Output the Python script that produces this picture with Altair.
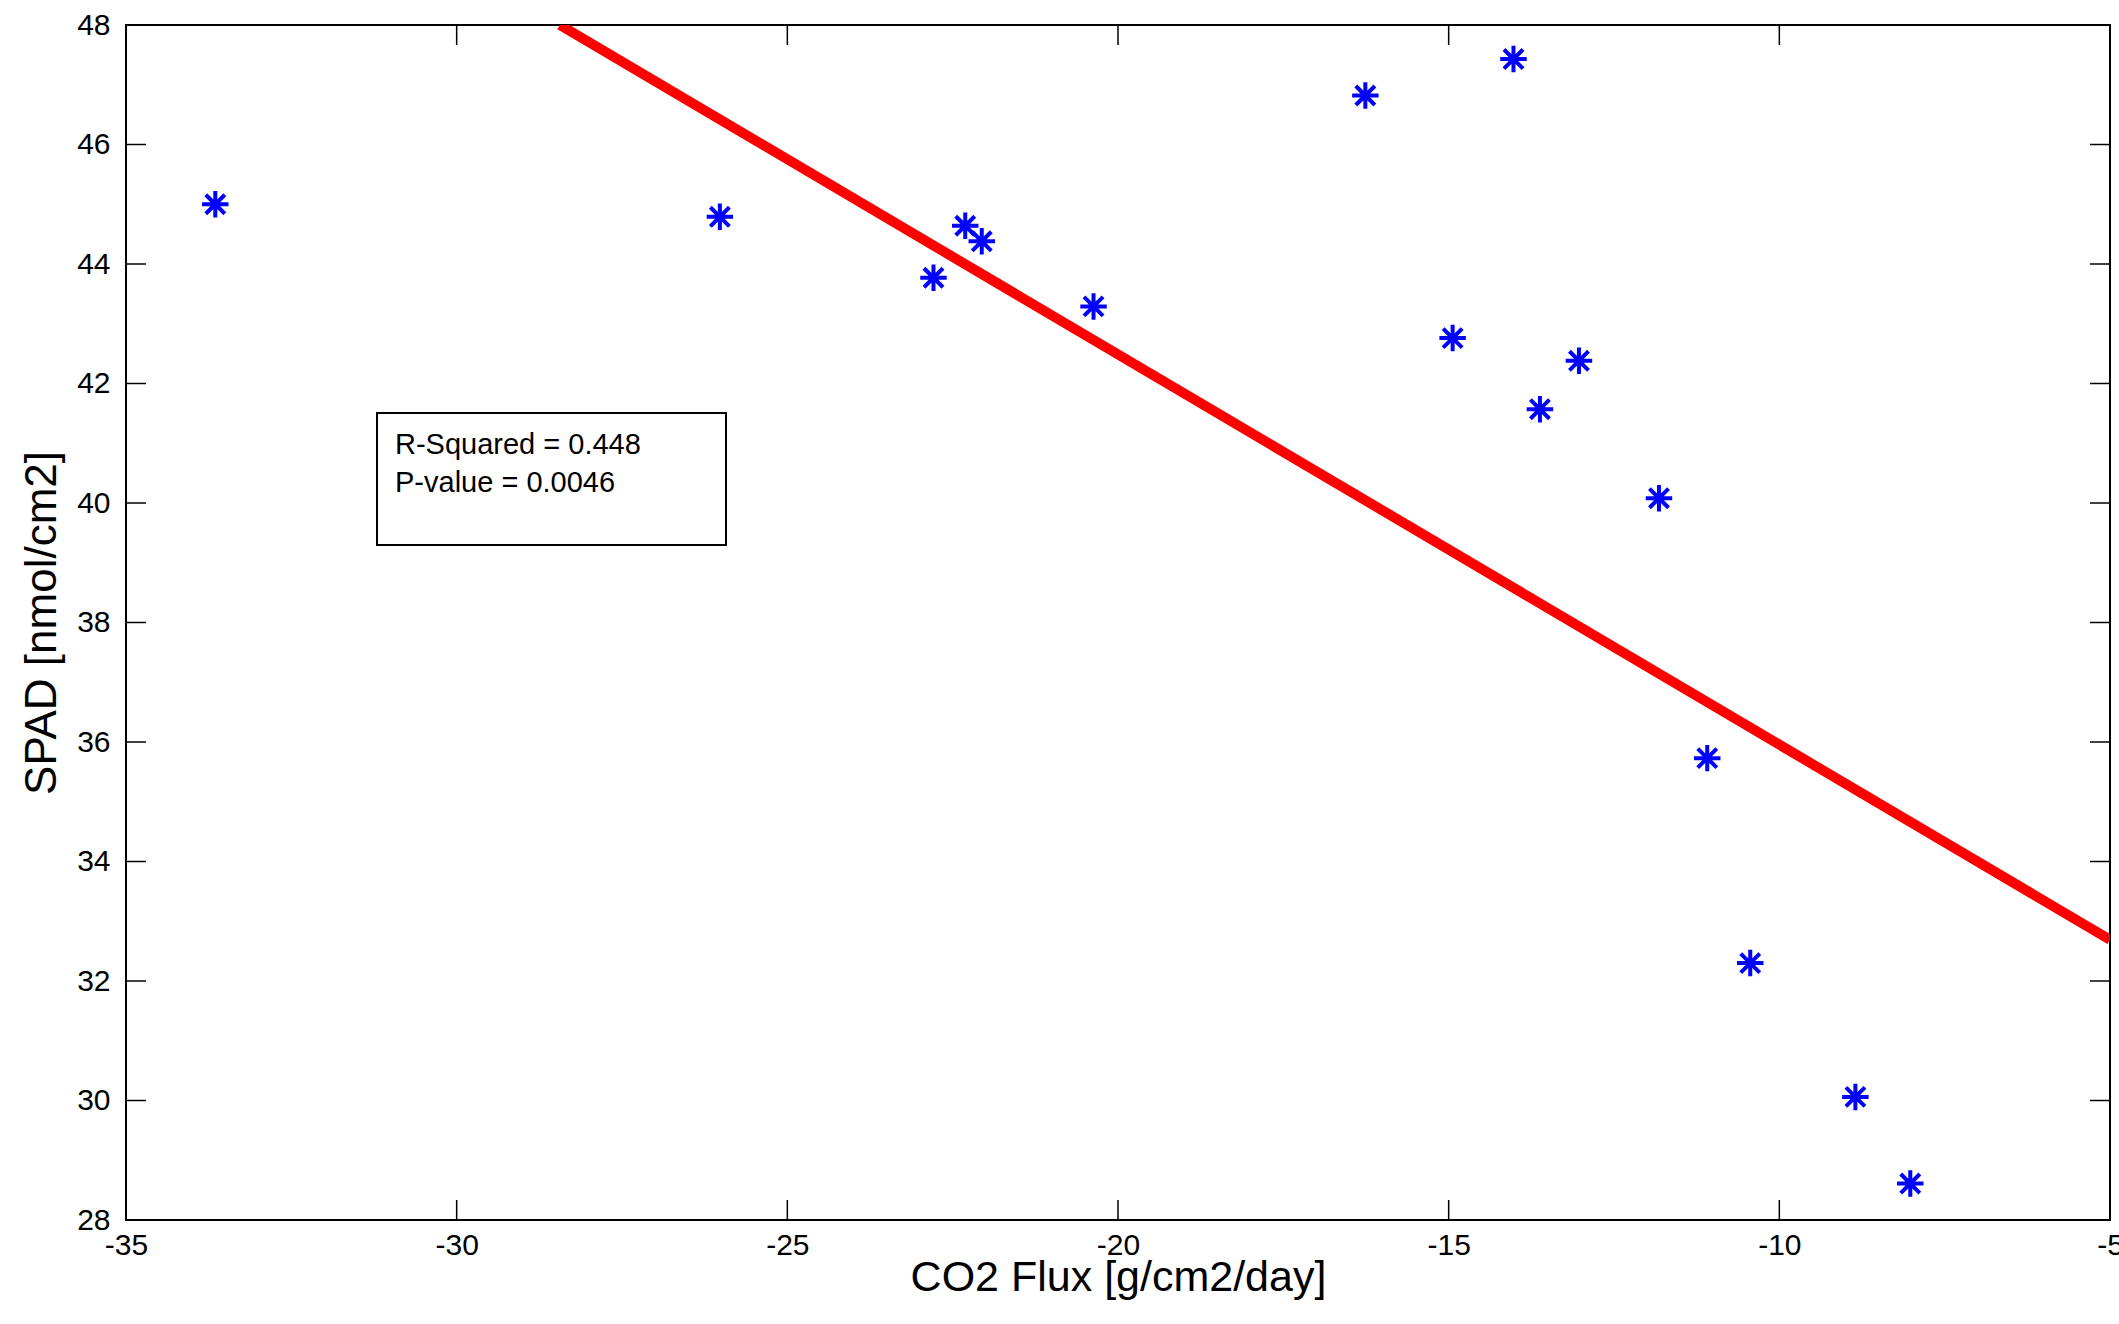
import altair as alt
import pandas as pd

# ---- data ----
co2_flux = [-33.65, -26.02, -22.79, -22.31, -22.06, -20.37, -16.26, -14.94,
            -14.02, -13.62, -13.03, -11.82, -11.09, -10.44, -8.85, -8.02]
spad = [45.00, 44.79, 43.77, 44.64, 44.38, 43.29, 46.82, 42.76,
        47.43, 41.57, 42.38, 40.08, 35.73, 32.30, 30.06, 28.61]

fit_x = [-28.44, -5.0]
fit_y = [48.0, 32.69]

x_ticks = [-35, -30, -25, -20, -15, -10, -5]
y_ticks = [28, 30, 32, 34, 36, 38, 40, 42, 44, 46, 48]

stats_line1 = "R-Squared = 0.448"
stats_line2 = "P-value = 0.0046"

W, H = 1984, 1195
FONT = "Liberation Sans, Arial, Helvetica, sans-serif"
TICK_FONT = "Liberation Sans Narrow, Arial Narrow, Liberation Sans, Arial, sans-serif"

pts = pd.DataFrame({"x": co2_flux, "y": spad})
fit = pd.DataFrame({"x": fit_x, "y": fit_y})
xt = pd.DataFrame({"v": x_ticks})
yt = pd.DataFrame({"v": y_ticks})
one = pd.DataFrame({"k": [0]})

xscale = alt.Scale(domain=[-35, -5], nice=False, zero=False)
yscale = alt.Scale(domain=[28, 48], nice=False, zero=False)

xaxis = alt.Axis(
    values=x_ticks, ticks=False, domain=False, grid=False,
    labelFlush=False, labelOverlap=False, labelPadding=10,
    labelFontSize=30, labelFont=TICK_FONT, labelColor="black",
    labelExpr="'' + datum.value",
    title="CO2 Flux [g/cm2/day]", titleFontSize=43, titleFont=FONT,
    titleFontWeight="normal", titleColor="black",
    titleBaseline="alphabetic", titleY=70,
)
yaxis = alt.Axis(
    values=y_ticks, ticks=False, domain=False, grid=False,
    labelFlush=False, labelOverlap=False, labelPadding=16,
    labelFontSize=30, labelFont=TICK_FONT, labelColor="black",
    labelExpr="'' + datum.value",
    title="SPAD [nmol/cm2]", titleFontSize=44, titleFont=FONT,
    titleFontWeight="normal", titleColor="black",
    titleBaseline="alphabetic", titleX=-71,
)

line = alt.Chart(fit).mark_line(color="#ff0000", strokeWidth=10, clip=True).encode(
    x=alt.X("x:Q", scale=xscale, axis=xaxis),
    y=alt.Y("y:Q", scale=yscale, axis=yaxis),
)

asterisk = "M-1,0L1,0M0,-1L0,1M-0.72,-0.72L0.72,0.72M-0.72,0.72L0.72,-0.72"
points = alt.Chart(pts).mark_point(
    shape=asterisk, filled=False, color="#0000ff", size=700, strokeWidth=4, opacity=1
).encode(
    x=alt.X("x:Q", scale=xscale),
    y=alt.Y("y:Q", scale=yscale),
)

tick_style = dict(color="black", strokeWidth=1.5)
xt_bottom = alt.Chart(xt).mark_rule(**tick_style).encode(
    x=alt.X("v:Q", scale=xscale), y=alt.value(H), y2=alt.value(H - 20))
xt_top = alt.Chart(xt).mark_rule(**tick_style).encode(
    x=alt.X("v:Q", scale=xscale), y=alt.value(0), y2=alt.value(20))
yt_left = alt.Chart(yt).mark_rule(**tick_style).encode(
    y=alt.Y("v:Q", scale=yscale), x=alt.value(0), x2=alt.value(20))
yt_right = alt.Chart(yt).mark_rule(**tick_style).encode(
    y=alt.Y("v:Q", scale=yscale), x=alt.value(W), x2=alt.value(W - 20))

rect = alt.Chart(one).mark_rect(fill="white", stroke="black", strokeWidth=2).encode(
    x=alt.value(251), x2=alt.value(600), y=alt.value(388), y2=alt.value(520))

text_style = dict(align="left", baseline="alphabetic", font=FONT, fontSize=29, color="black")
text1 = alt.Chart(one).mark_text(text=stats_line1, **text_style).encode(
    x=alt.value(269), y=alt.value(429))
text2 = alt.Chart(one).mark_text(text=stats_line2, **text_style).encode(
    x=alt.value(269), y=alt.value(467))

chart = alt.layer(
    line, points, xt_bottom, xt_top, yt_left, yt_right, rect, text1, text2
).properties(
    width=W, height=H,
    padding={"left": 126, "top": 25, "right": 9, "bottom": 104},
    autosize=alt.AutoSizeParams(type="none"),
    background="white",
).configure_view(stroke="black", strokeWidth=2)

chart.save("out.html", embed_options={"renderer": "svg", "actions": False})
